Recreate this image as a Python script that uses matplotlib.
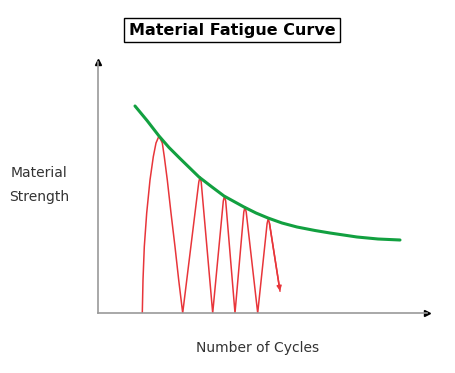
import matplotlib
matplotlib.use("Agg")
import matplotlib.pyplot as plt

# values (x = cycles, y = strength, arbitrary units)
strength_x = [37, 49, 61, 71, 82, 101, 114, 126, 146, 158, 170, 184, 199, 217, 232, 259, 280, 302]
strength_y = [207, 192.5, 177, 165.5, 154.5, 136, 126, 117, 106, 100, 95, 90, 86, 82.5, 80, 76, 74, 73]

stress_x = [44.3, 45, 46.3, 48.7, 52, 55.3, 58, 61, 64.3, 66.3, 69.3, 73, 77, 80.7, 84.7,
            100.8, 102, 103.2, 114.7,
            125.3, 126.5, 127.7, 137,
            145.8, 147, 148.2, 159.7,
            169.1, 170.3, 171.5, 182]
stress_y = [0, 33, 66.3, 100, 133, 156.3, 170, 177, 170, 156.3, 133, 100, 66.3, 33, 0,
            131, 136, 131, 0,
            112, 117, 112, 0,
            101, 106, 101, 0,
            89.5, 94.5, 89.5, 22]

title = "Material Fatigue Curve"
x_label = "Number of Cycles"
y_label = "Material\nStrength"

W, H = 456, 373
fig = plt.figure(figsize=(W / 100, H / 100), dpi=100)
ax = fig.add_axes([98 / W, (H - 313) / H, (427 - 98) / W, (313 - 62) / H])
ax.set_xlim(0, 329)
ax.set_ylim(0, 251)

for side in ["top", "right"]:
    ax.spines[side].set_visible(False)
for side in ["left", "bottom"]:
    ax.spines[side].set_color("#9a9a9a")
    ax.spines[side].set_linewidth(1.2)
ax.set_xticks([])
ax.set_yticks([])
ax.patch.set_alpha(0)

# arrow heads on the axes
ax.plot(1, 0, ">", color="black", ms=4, transform=ax.transAxes, clip_on=False)
ax.plot(0, 1, "^", color="black", ms=4, transform=ax.transAxes, clip_on=False)

ax.plot(strength_x, strength_y, color="#12a040", lw=2.2, solid_capstyle="round",
        solid_joinstyle="round", zorder=3)
ax.plot(stress_x, stress_y, color="#e8353a", lw=1.1, solid_joinstyle="round", zorder=2)
ax.annotate("", xy=(stress_x[-1], stress_y[-1]), xytext=(stress_x[-2], stress_y[-2]),
            arrowprops=dict(arrowstyle="-|>", color="#e8353a", lw=1.1, mutation_scale=7,
                            shrinkA=0, shrinkB=0))

fig.text(232 / W, 1 - 30 / H, title, ha="center", va="center", fontsize=11.5,
         fontweight="bold", color="black",
         bbox=dict(boxstyle="square,pad=0.3", fc="white", ec="black", lw=1))
fig.text(258 / W, 1 - 348 / H, x_label, ha="center", va="center", fontsize=10, color="#333333")
fig.text(39 / W, 1 - 185 / H, y_label, ha="center", va="center", fontsize=10,
         color="#333333", linespacing=1.85)

fig.savefig("out.png", dpi=100)
